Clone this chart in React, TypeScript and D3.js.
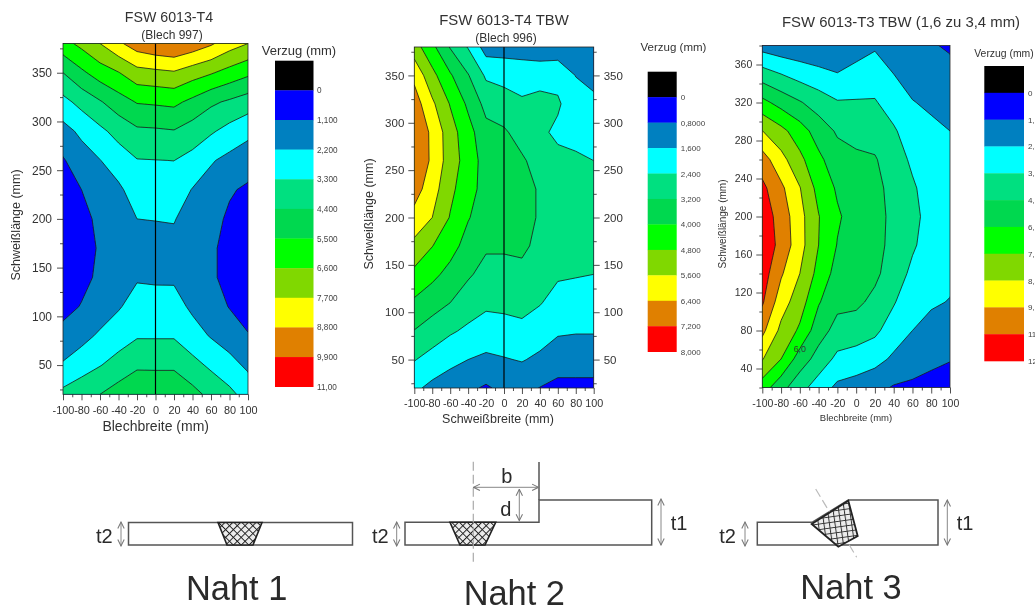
import React, { useRef, useEffect } from "react";
import * as d3 from "d3";

const FONT = "'Liberation Sans', Arial, sans-serif";
const INK = "#333";

// grid of the measurements: x columns, y rows (top to bottom of the plot)
const xColumns = [-100, -80, -60, -40, -20, 0, 20, 40, 60, 80, 100];
const yRows = [380, 350, 320, 290, 260, 230, 200, 170, 140, 110, 80, 50, 20];

const bandColors = [
  "#0000ff", "#0080c0", "#00ffff", "#00e080", "#00d850",
  "#00ff00", "#80d800", "#ffff00", "#e08000", "#ff0000",
];

// Verzug (mm), one list per x column
const verzug997 = [
  [6.2, 4.4, 2.97, 1.82, 1.0, 0.75, 0.55, 0.45, 0.5, 0.8, 1.41, 2.32, 3.6],
  [6.9, 5.28, 3.65, 2.43, 1.7, 1.1, 0.9, 0.8, 0.85, 1.15, 1.86, 2.79, 4.03],
  [7.7, 6.04, 4.3, 3.06, 2.17, 1.55, 1.25, 1.18, 1.27, 1.6, 2.37, 3.25, 4.4],
  [8.6, 6.55, 5.0, 3.67, 2.75, 2.0, 1.7, 1.55, 1.7, 2.1, 2.8, 3.72, 4.9],
  [9.37, 7.3, 5.57, 4.2, 3.25, 2.72, 2.2, 1.95, 2.1, 2.63, 3.2, 4.22, 5.28],
  [9.7, 7.44, 5.65, 4.25, 3.28, 2.75, 2.22, 1.95, 2.05, 2.62, 3.2, 4.2, 5.3],
  [9.88, 7.58, 5.75, 4.34, 3.31, 2.78, 2.25, 1.95, 2.05, 2.6, 3.2, 4.2, 5.3],
  [9.5, 7.1, 5.22, 3.9, 2.95, 2.15, 1.8, 1.5, 1.6, 2.0, 2.65, 3.64, 4.75],
  [8.95, 6.7, 4.6, 3.44, 2.3, 1.75, 1.4, 1.25, 1.25, 1.6, 2.12, 3.1, 4.1],
  [8.2, 6.2, 4.23, 2.93, 1.9, 1.2, 0.95, 0.8, 0.8, 1.05, 1.71, 2.55, 3.58],
  [7.7, 5.74, 3.85, 2.5, 1.55, 0.95, 0.6, 0.45, 0.5, 0.75, 1.15, 2.0, 2.85],
];
const verzug996 = [
  [5.16, 6.2, 6.8, 7.05, 7.1, 6.75, 6.13, 5.38, 4.6, 3.87, 3.17, 2.44, 1.75],
  [4.2, 5.04, 5.75, 6.24, 6.25, 5.95, 5.6, 4.82, 4.2, 3.52, 2.83, 2.11, 1.4],
  [3.15, 4.1, 4.75, 5.15, 5.2, 5.0, 4.75, 4.3, 3.75, 3.2, 2.5, 1.8, 1.2],
  [2.35, 3.25, 3.85, 4.3, 4.45, 4.3, 4.05, 3.7, 3.3, 2.8, 2.25, 1.6, 0.95],
  [1.25, 2.28, 2.95, 3.45, 3.65, 3.7, 3.6, 3.3, 2.95, 2.55, 2.05, 1.45, 0.7],
  [1.25, 2.15, 2.75, 3.3, 3.55, 3.65, 3.6, 3.3, 2.95, 2.59, 2.1, 1.55, 1.0],
  [1.3, 1.97, 2.55, 2.9, 3.3, 3.55, 3.55, 3.35, 3.0, 2.65, 2.2, 1.65, 1.05],
  [1.1, 2.1, 2.65, 2.55, 2.9, 3.1, 3.1, 3.0, 2.75, 2.45, 1.95, 1.45, 0.78],
  [1.1, 2.17, 2.5, 2.25, 2.6, 2.75, 2.75, 2.7, 2.5, 2.1, 1.7, 1.15, 0.6],
  [0.95, 1.58, 1.95, 2.2, 2.5, 2.6, 2.65, 2.6, 2.45, 2.05, 1.65, 1.15, 0.6],
  [1.0, 1.4, 1.75, 2.1, 2.4, 2.55, 2.6, 2.55, 2.4, 2.0, 1.65, 1.15, 0.6],
];
const verzugT3 = [
  [1.9, 4.13, 6.35, 8.42, 10.13, 11.1, 11.5, 11.6, 11.4, 10.95, 9.9, 8.47, 6.6],
  [1.6, 3.6, 5.55, 7.55, 8.8, 9.85, 10.3, 10.45, 9.75, 8.95, 8.1, 7.2, 5.2],
  [1.5, 3.1, 4.9, 6.55, 7.5, 8.45, 8.8, 8.85, 8.4, 7.75, 7.0, 5.42, 4.05],
  [1.4, 2.75, 4.25, 5.45, 6.27, 6.8, 7.25, 7.2, 6.8, 6.1, 5.3, 4.35, 3.0],
  [1.3, 2.45, 3.7, 4.65, 5.3, 5.85, 6.15, 5.95, 5.55, 5.1, 4.4, 3.3, 2.15],
  [1.85, 2.8, 3.7, 4.45, 5.0, 5.35, 5.5, 5.5, 5.35, 5.05, 4.2, 3.09, 1.9],
  [2.25, 3.0, 3.7, 4.3, 4.9, 5.15, 5.3, 5.25, 5.05, 4.5, 3.85, 2.8, 1.55],
  [1.7, 2.4, 3.05, 3.75, 4.15, 4.4, 4.45, 4.4, 4.2, 3.7, 3.0, 2.2, 1.1],
  [1.5, 1.95, 2.45, 2.95, 3.4, 3.75, 3.9, 3.75, 3.35, 2.8, 2.4, 1.7, 1.0],
  [1.3, 1.7, 2.2, 2.65, 2.95, 3.1, 3.2, 3.1, 2.9, 2.55, 2.0, 1.4, 0.9],
  [1.05, 1.55, 1.95, 2.4, 2.65, 2.85, 2.9, 2.85, 2.65, 2.35, 1.8, 1.25, 0.75],
];

const levels997 = [0, 1.1, 2.2, 3.3, 4.4, 5.5, 6.6, 7.7, 8.8, 9.9, 11];
const levels996 = [0, 0.8, 1.6, 2.4, 3.2, 4.0, 4.8, 5.6, 6.4, 7.2, 8];
const levelsT3 = [0, 1.2, 2.4, 3.6, 4.8, 6.0, 7.2, 8.4, 9.6, 10.8, 12];

const labels997 = ["0", "1,100", "2,200", "3,300", "4,400", "5,500", "6,600", "7,700", "8,800", "9,900", "11,00"];
const labels996 = ["0", "0,8000", "1,600", "2,400", "3,200", "4,000", "4,800", "5,600", "6,400", "7,200", "8,000"];
const labelsT3 = ["0", "1,200", "2,400", "3,600", "4,800", "6,000", "7,200", "8,400", "9,600", "11,00", "12,00"];

const yTicks50 = [50, 100, 150, 200, 250, 300, 350];
const yMinor50 = [25, 75, 125, 175, 225, 275, 325, 375];
const yTicks40 = [40, 80, 120, 160, 200, 240, 280, 320, 360];
const yMinor40 = [20, 60, 100, 140, 180, 220, 260, 300, 340, 380];
const xTicks = [-100, -80, -60, -40, -20, 0, 20, 40, 60, 80, 100];
const xMinor = [-90, -70, -50, -30, -10, 10, 30, 50, 70, 90];

const panels = [
  {
    id: "p1", grid: verzug997, levels: levels997, labels: labels997,
    title: "FSW 6013-T4", sub: "(Blech 997)",
    xTitle: "Blechbreite (mm)", yTitle: "Schweißlänge (mm)",
    box: { l: 63, r: 248, t: 43.5, b: 394.3 },
    yTicks: yTicks50, yMinor: yMinor50, tickSize: 12, xTickSize: 10.9, pad: 5, xPad: 6,
    titleAt: [169, 22, 14.2], subAt: [172, 39, 12],
    xTitleAt: [155.7, 431, 14], yTitleAt: [20, 225, 12.5],
    legend: { l: 275, r: 313.5, t: 60.7, b: 386.7, lx: 317, size: 8.2 },
    legendTitle: [299, 55, 13], line: true, rightAxis: false,
  },
  {
    id: "p2", grid: verzug996, levels: levels996, labels: labels996,
    title: "FSW 6013-T4 TBW", sub: "(Blech 996)",
    xTitle: "Schweißbreite (mm)", yTitle: "Schweißlänge (mm)",
    box: { l: 414.3, r: 593.7, t: 47, b: 388 },
    yTicks: yTicks50, yMinor: yMinor50, tickSize: 11.5, xTickSize: 10.8, pad: 4, xPad: 5,
    titleAt: [504, 24.5, 14.9], subAt: [506, 42, 12],
    xTitleAt: [498, 423, 12.5], yTitleAt: [373, 214, 12.5],
    legend: { l: 647.7, r: 676.7, t: 71.7, b: 351.7, lx: 680.7, size: 8 },
    legendTitle: [673.5, 51, 11.5], line: true, rightAxis: true,
  },
  {
    id: "p3", grid: verzugT3, levels: levelsT3, labels: labelsT3,
    title: "FSW 6013-T3 TBW (1,6 zu 3,4 mm)", sub: "",
    xTitle: "Blechbreite (mm)", yTitle: "Schweißlänge (mm)",
    box: { l: 762.3, r: 950, t: 45.5, b: 387.5 },
    yTicks: yTicks40, yMinor: yMinor40, tickSize: 10.5, xTickSize: 10.5, pad: 4, xPad: 6,
    titleAt: [901, 27, 14.9], subAt: [0, 0, 0],
    xTitleAt: [856, 421, 9.5], yTitleAt: [725.7, 224, 10],
    legend: { l: 984.3, r: 1024, t: 66, b: 361, lx: 1028, size: 8 },
    legendTitle: [1004, 56.5, 10.4], line: false, rightAxis: false,
    // contour label written inside the plot: [x mm, y mm, text]
    note: [-60, 57, "6,0"],
  },
];

function drawPanel(root, p) {
  const g = root.append("g");
  const { l, r, t, b } = p.box;
  const x = d3.scaleLinear().domain([-100, 100]).range([l, r]);
  const y = d3.scaleLinear().domain([20, 380]).range([b, t]);

  // grid index -> pixel; d3.contours puts sample i at i + 0.5
  const xAt = d3.scaleLinear().domain(xColumns.map((_, i) => i + 0.5)).range(xColumns.map((v) => x(v)));
  const yAt = d3.scaleLinear().domain(yRows.map((_, i) => i + 0.5)).range(yRows.map((v) => y(v)));
  const path = d3.geoPath(
    d3.geoTransform({
      point(px, py) {
        this.stream.point(xAt(px), yAt(py));
      },
    })
  );

  const values = yRows.flatMap((_, row) => xColumns.map((_, col) => p.grid[col][row]));
  const bands = d3
    .contours()
    .size([xColumns.length, yRows.length])
    .thresholds(p.levels.slice(0, -1))(values);

  root
    .select("defs")
    .append("clipPath")
    .attr("id", `clip-${p.id}`)
    .append("rect")
    .attr("x", l)
    .attr("y", t)
    .attr("width", r - l)
    .attr("height", b - t);

  g.append("g")
    .attr("clip-path", `url(#clip-${p.id})`)
    .selectAll("path")
    .data(bands)
    .enter()
    .append("path")
    .attr("d", path)
    .attr("fill", (_, i) => bandColors[i])
    .attr("stroke", "#1a1a1a")
    .attr("stroke-width", 0.8);

  if (p.line) {
    g.append("line")
      .attr("x1", x(0))
      .attr("x2", x(0))
      .attr("y1", t)
      .attr("y2", b)
      .attr("stroke", "#000")
      .attr("stroke-width", 1.2);
  }

  // frame and axes
  g.append("rect")
    .attr("x", l)
    .attr("y", t)
    .attr("width", r - l)
    .attr("height", b - t)
    .attr("fill", "none")
    .attr("stroke", "#222")
    .attr("stroke-width", 0.8);

  const styleAxis = (size) => (sel) => {
    sel.select(".domain").remove();
    sel.selectAll("line").attr("stroke", "#222").attr("stroke-width", 0.8);
    sel.selectAll("text").attr("fill", INK).attr("font-family", FONT).attr("font-size", size);
  };
  const fmt = (d) => String(d);

  g.append("g")
    .attr("transform", `translate(0,${b})`)
    .call(d3.axisBottom(x).tickValues(xTicks).tickSize(6).tickPadding(p.xPad).tickFormat(fmt))
    .call(styleAxis(p.xTickSize));
  g.append("g")
    .attr("transform", `translate(0,${b})`)
    .call(d3.axisBottom(x).tickValues(xMinor).tickSize(3).tickFormat(() => ""))
    .call(styleAxis(p.xTickSize));
  g.append("g")
    .attr("transform", `translate(${l},0)`)
    .call(d3.axisLeft(y).tickValues(p.yTicks).tickSize(6).tickPadding(p.pad).tickFormat(fmt))
    .call(styleAxis(p.tickSize));
  g.append("g")
    .attr("transform", `translate(${l},0)`)
    .call(d3.axisLeft(y).tickValues(p.yMinor).tickSize(3).tickFormat(() => ""))
    .call(styleAxis(p.tickSize));
  if (p.rightAxis) {
    g.append("g")
      .attr("transform", `translate(${r},0)`)
      .call(d3.axisRight(y).tickValues(p.yTicks).tickSize(6).tickPadding(p.pad).tickFormat(fmt))
      .call(styleAxis(p.tickSize));
    g.append("g")
      .attr("transform", `translate(${r},0)`)
      .call(d3.axisRight(y).tickValues(p.yMinor).tickSize(3).tickFormat(() => ""))
      .call(styleAxis(p.tickSize));
  }

  const label = (txt, [tx, ty, size], anchor = "middle") =>
    g
      .append("text")
      .attr("x", tx)
      .attr("y", ty)
      .attr("text-anchor", anchor)
      .attr("font-family", FONT)
      .attr("font-size", size)
      .attr("fill", INK)
      .text(txt);

  label(p.title, p.titleAt);
  if (p.sub) label(p.sub, p.subAt);
  label(p.xTitle, p.xTitleAt);
  label(p.yTitle, [0, 0, p.yTitleAt[2]]).attr(
    "transform",
    `translate(${p.yTitleAt[0]},${p.yTitleAt[1]}) rotate(-90)`
  );
  label("Verzug (mm)", p.legendTitle);
  if (p.note) label(p.note[2], [x(p.note[0]), y(p.note[1]), 8.8]);

  // colour legend: black cell on top, then one cell per band
  const lg = p.legend;
  const cellColors = ["#000000", ...bandColors];
  const cell = d3.scaleLinear().domain([0, cellColors.length]).range([lg.t, lg.b]);
  g.append("g")
    .selectAll("rect")
    .data(cellColors)
    .enter()
    .append("rect")
    .attr("x", lg.l)
    .attr("y", (_, i) => cell(i))
    .attr("width", lg.r - lg.l)
    .attr("height", (_, i) => cell(i + 1) - cell(i) + 0.3)
    .attr("fill", (d) => d);
  g.append("g")
    .selectAll("text")
    .data(p.labels)
    .enter()
    .append("text")
    .attr("x", lg.lx)
    .attr("y", (_, i) => cell(i + 1) + 3)
    .attr("font-family", FONT)
    .attr("font-size", lg.size)
    .attr("fill", "#444")
    .text((d) => d);
}

const GRAY = "#555";

const DoubleArrow = ({ x1, y1, x2, y2 }) => (
  <line x1={x1} y1={y1} x2={x2} y2={y2} stroke="#888" strokeWidth={1}
    markerStart="url(#open)" markerEnd="url(#open)" />
);

const Word = ({ x, y, size = 20, anchor = "start", children }) => (
  <text x={x} y={y} fontSize={size} fontFamily={FONT} fill="#2a2a2a" textAnchor={anchor}>
    {children}
  </text>
);

const Seams = () => (
  <g>
    <defs>
      <pattern id="hatch" width="5.5" height="5.5" patternUnits="userSpaceOnUse" patternTransform="rotate(45)">
        <rect width="5.5" height="5.5" fill="#ececec" />
        <path d="M0 0H5.5M0 0V5.5" stroke="#222" strokeWidth="2" />
      </pattern>
      <pattern id="hatch3" width="5.5" height="5.5" patternUnits="userSpaceOnUse" patternTransform="rotate(-8)">
        <rect width="5.5" height="5.5" fill="#ececec" />
        <path d="M0 0H5.5M0 0V5.5" stroke="#333" strokeWidth="2" />
      </pattern>
      <marker id="open" viewBox="0 0 10 10" refX="9" refY="5" markerWidth="8" markerHeight="8"
        markerUnits="userSpaceOnUse" orient="auto-start-reverse">
        <path d="M1 1L9 5L1 9" fill="none" stroke="#777" strokeWidth="1.3" />
      </marker>
    </defs>

    {/* Naht 1 */}
    <rect x={128.5} y={522.5} width={224} height={22.5} fill="#fff" stroke={GRAY} strokeWidth={1.5} />
    <path d="M218 522.5H262L253 545H227Z" fill="url(#hatch)" stroke="#222" strokeWidth={1.6} />
    <DoubleArrow x1={121} y1={522} x2={121} y2={546} />
    <Word x={96} y={542.5}>t2</Word>
    <Word x={236.7} y={600} size={34.4} anchor="middle">Naht 1</Word>

    {/* Naht 2 */}
    <path d="M405 522.3H539V500H651.7V545H405Z" fill="#fff" stroke={GRAY} strokeWidth={1.5} />
    <line x1={539} y1={462} x2={539} y2={500} stroke={GRAY} strokeWidth={1.5} />
    <path d="M450 522.3H495.7L485 545H460Z" fill="url(#hatch)" stroke="#222" strokeWidth={1.6} />
    <line x1={473.3} y1={461.7} x2={473.3} y2={561.7} stroke="#aaa" strokeWidth={1.2} strokeDasharray="9 4" />
    <DoubleArrow x1={473.5} y1={487.3} x2={538.5} y2={487.3} />
    <DoubleArrow x1={519.3} y1={489.3} x2={519.3} y2={520.7} />
    <DoubleArrow x1={661} y1={499} x2={661} y2={545} />
    <DoubleArrow x1={396.7} y1={522} x2={396.7} y2={546} />
    <Word x={506.7} y={482.7} anchor="middle">b</Word>
    <Word x={505.7} y={515.7} anchor="middle">d</Word>
    <Word x={670.7} y={529.5}>t1</Word>
    <Word x={372} y={542.5}>t2</Word>
    <Word x={514.3} y={604.5} size={34.4} anchor="middle">Naht 2</Word>

    {/* Naht 3 */}
    <path d="M757.3 522.3H812L848.3 500H938V545H757.3Z" fill="#fff" stroke={GRAY} strokeWidth={1.5} />
    <line x1={815.7} y1={489} x2={856.7} y2={557.3} stroke="#bbb" strokeWidth={1.2} strokeDasharray="9 4" />
    <path d="M811.7 524L848.3 500.7L857.7 536L838.3 546.7Z" fill="url(#hatch3)" stroke="#222" strokeWidth={1.8} />
    <DoubleArrow x1={947.3} y1={500} x2={947.3} y2={545} />
    <DoubleArrow x1={745} y1={522} x2={745} y2={546} />
    <Word x={956.7} y={530}>t1</Word>
    <Word x={719.3} y={542.5}>t2</Word>
    <Word x={851} y={599} size={34.4} anchor="middle">Naht 3</Word>
  </g>
);

const App = () => {
  const ref = useRef(null);

  useEffect(() => {
    const svg = d3.select(ref.current);
    const plots = svg.select("g.plots");
    plots.selectAll("*").remove();
    plots.append("defs");
    panels.forEach((p) => drawPanel(plots, p));
  }, []);

  return (
    <svg
      ref={ref}
      width={1035}
      height={607}
      style={{ position: "absolute", left: 0, top: 0, display: "block", background: "#fff" }}
    >
      <defs>
        <filter id="soft" filterUnits="userSpaceOnUse" x="0" y="0" width="1035" height="607">
          <feGaussianBlur stdDeviation="0.5" />
        </filter>
      </defs>
      <g filter="url(#soft)">
        <g className="plots" />
        <Seams />
      </g>
    </svg>
  );
};

export default App;
